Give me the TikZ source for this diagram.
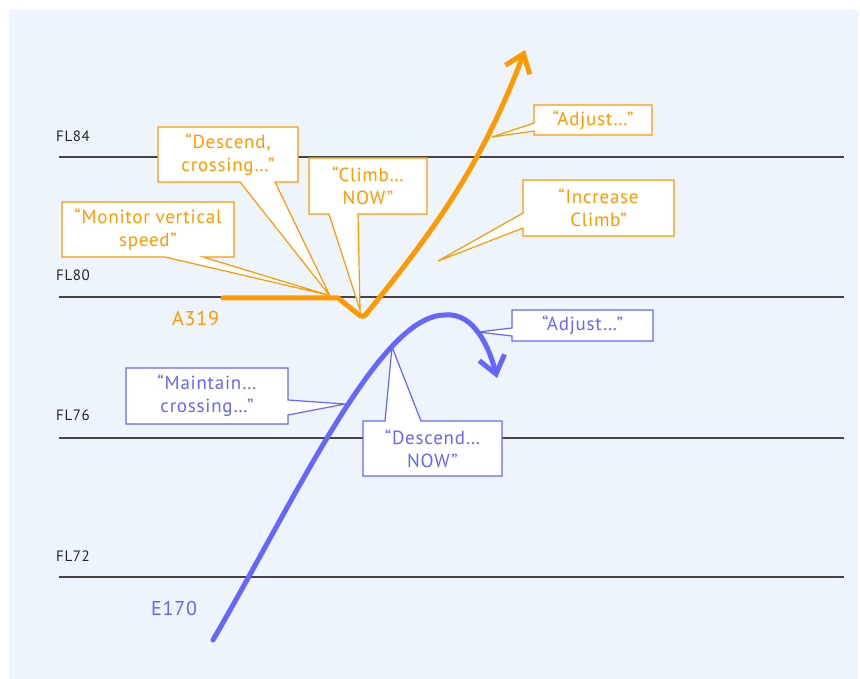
\documentclass[tikz,border=0pt]{standalone}
\usepackage{fontspec}
\setmainfont{PT Sans}[LetterSpace=4]
\usetikzlibrary{arrows.meta}
\definecolor{bg}{HTML}{EDF4FB}
\definecolor{aorange}{HTML}{FF9900}
\definecolor{eblue}{HTML}{6666FF}
\definecolor{flgray}{HTML}{444444}
\begin{document}
\begin{tikzpicture}[x=1pt,y=-1pt,
  flline/.style={flgray,line width=1.5pt},
  fllabel/.style={anchor=base west,inner sep=0pt,text=black!85,font=\fontsize{15}{16}\selectfont},
  ocall/.style={draw=aorange,fill=white,line width=1.2pt,line join=miter},
  bcall/.style={draw=eblue,fill=white,line width=1.2pt,line join=miter},
  otext/.style={text=aorange,align=center,inner sep=0pt,font=\fontsize{19}{23}\selectfont},
  btext/.style={text=eblue,align=center,inner sep=0pt,font=\fontsize{19}{23}\selectfont},
  acname/.style={anchor=base west,inner sep=0pt,font=\fontsize{20}{22}\selectfont},
  opath/.style={aorange,line width=5pt,line cap=round,line join=round},
  bpath/.style={eblue,line width=5pt,line cap=round,line join=round},
  barb/.style={-{Straight Barb[length=17pt,width=26pt]}}
]
\useasboundingbox (0,0) rectangle (860,679);
\fill[bg] (9,10) rectangle (858,679);

% flight levels
\foreach \n/\y/\b in {84/157/142,80/297/280,76/438/420,72/577/561}{
  \coordinate (fl\n a) at (59,\y);
  \coordinate (fl\n b) at (844,\y);
  \draw[flline] (fl\n a) -- (fl\n b);
  \node[fllabel] (lab\n) at (56,\b) {FL\n};
}

% aircraft paths
\coordinate (oa) at (223,298);
\coordinate (ob) at (338,298);
\coordinate (ov) at (363,318);
\coordinate (otip) at (525,50);
\draw[opath,barb] (oa) -- (ob) [rounded corners=4pt] -- (ov) [sharp corners]
   .. controls (430,235) and (480,170) .. (otip);

\coordinate (ba) at (213,640);
\coordinate (bpk) at (445,315);
\coordinate (btip) at (497,378);
\draw[bpath,barb] (ba) .. controls (300,490) and (380,315) .. (bpk)
   .. controls (475,312) and (490,350) .. (btip);

\node[acname,text=aorange] (a319) at (172,326) {A319};
\node[acname,text=eblue] (e170) at (151,615) {E170};

% orange callouts
\path[ocall] (158,127) -- (298,127) -- (298,182) -- (275,182) -- (330,296) -- (240,182) -- (158,182) -- cycle;
\node[otext] (cdesc) at (228,154.5) {“Descend,\\crossing…”};

\path[ocall] (62,202) -- (234,202) -- (234,257) -- (203,257) -- (328,295) -- (165,257) -- (62,257) -- cycle;
\node[otext] (cmon) at (148,229.5) {“Monitor vertical\\speed”};

\path[ocall] (309,158) -- (427,158) -- (427,214) -- (358,214) -- (360,310) -- (329,214) -- (309,214) -- cycle;
\node[otext] (cclimb) at (368,186) {“Climb…\\NOW”};

\path[ocall] (534,105) -- (652,105) -- (652,135) -- (534,135) -- (534,131) -- (492,137) -- (534,123) -- cycle;
\node[otext] (cadjo) at (593,120) {“Adjust…”};

\path[ocall] (523,180) -- (674,180) -- (674,236) -- (523,236) -- (523,228) -- (438,261) -- (523,213) -- cycle;
\node[otext] (cinc) at (598.5,208) {“Increase\\Climb”};

% blue callouts
\path[bcall] (512,310) -- (653,310) -- (653,341) -- (512,341) -- (512,336) -- (478,332) -- (512,328) -- cycle;
\node[btext] (cadjb) at (582.5,325.5) {“Adjust…”};

\path[bcall] (126,368) -- (288,368) -- (288,400) -- (345,404) -- (288,415) -- (288,424) -- (126,424) -- cycle;
\node[btext] (cmaint) at (207,396) {“Maintain…\\crossing…”};

\path[bcall] (363,421) -- (385,421) -- (392,347) -- (421,421) -- (502,421) -- (502,476) -- (363,476) -- cycle;
\node[btext] (cdnow) at (432.5,448.5) {“Descend…\\NOW”};
\end{tikzpicture}
\end{document}
